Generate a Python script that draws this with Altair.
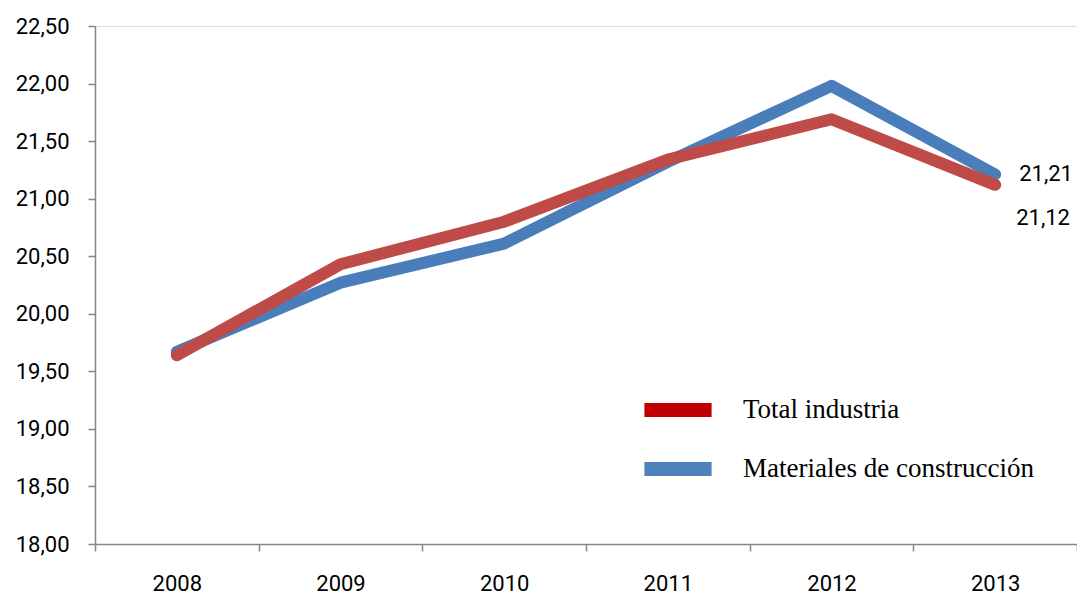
import altair as alt
import pandas as pd

years = ["2008", "2009", "2010", "2011", "2012", "2013"]
materiales = [19.67, 20.27, 20.61, 21.32, 21.98, 21.21]
total = [19.64, 20.43, 20.80, 21.34, 21.69, 21.12]
series = ["Materiales de construcción", "Total industria"]
line_colors = ["#4A7EBB", "#BE4B48"]
legend_colors = ["#4F81BD", "#C00000"]

rows = []
for i, y in enumerate(years):
    rows.append({"year": y, "serie": series[0], "value": materiales[i], "ord": 0})
    rows.append({"year": y, "serie": series[1], "value": total[i], "ord": 1})
df = pd.DataFrame(rows)

last = pd.DataFrame([
    {"year": years[-1], "serie": series[0], "value": materiales[-1],
     "label": f"{materiales[-1]:.2f}".replace(".", ",")},
    {"year": years[-1], "serie": series[1], "value": total[-1],
     "label": f"{total[-1]:.2f}".replace(".", ",")},
])

FONT = "Roboto"
AXIS_COLOR = "#868686"

x_enc = alt.X(
    "year:O",
    scale=alt.Scale(type="band", paddingInner=0, paddingOuter=0),
    axis=alt.Axis(
        title=None, tickBand="extent", labelAngle=0, labelFont=FONT,
        labelFontSize=22, labelColor="#000000", labelPadding=22,
        domainColor=AXIS_COLOR, domainWidth=1.5, tickColor=AXIS_COLOR,
        tickWidth=1.5, tickSize=7, grid=False,
    ),
)
y_enc = alt.Y(
    "value:Q",
    scale=alt.Scale(domain=[18, 22.5], nice=False, zero=False),
    axis=alt.Axis(
        title=None, values=[18 + 0.5 * k for k in range(10)],
        labelExpr="replace(format(datum.value, '.2f'), '.', ',')",
        labelFont=FONT, labelFontSize=22, labelColor="#000000",
        labelPadding=19, domainColor=AXIS_COLOR, domainWidth=1.5,
        tickColor=AXIS_COLOR, tickWidth=1.5, tickSize=7, grid=False,
    ),
)

lines = alt.Chart(df).mark_line(strokeWidth=12, strokeCap="round",
                                 strokeJoin="round").encode(
    x=x_enc,
    y=y_enc,
    color=alt.Color("serie:N",
                    scale=alt.Scale(domain=series, range=line_colors),
                    legend=None),
    order=alt.Order("ord:Q"),
    detail="serie:N",
)

legend_layer = alt.Chart(df).mark_point(opacity=0, filled=True).encode(
    x="year:O",
    y="value:Q",
    fill=alt.Fill(
        "serie:N",
        scale=alt.Scale(domain=[series[1], series[0]],
                        range=[legend_colors[1], legend_colors[0]]),
        legend=alt.Legend(
            title=None, orient="none", legendX=555, legendY=356,
            symbolType="M-1.2,-0.25H1.2V0.25H-1.2Z", symbolSize=3136,
            symbolStrokeWidth=0, symbolOpacity=1,
            labelFont="Liberation Serif", labelFontSize=27,
            labelColor="#000000", labelOffset=37, rowPadding=18,
            labelLimit=600,
        ),
    ),
)

lbl_blue = alt.Chart(last[last.serie == series[0]]).mark_text(
    align="left", baseline="middle", dx=24, dy=0, font=FONT, fontSize=22,
    color="#000000").encode(x="year:O", y="value:Q", text="label:N")
lbl_red = alt.Chart(last[last.serie == series[1]]).mark_text(
    align="left", baseline="middle", dx=21, dy=33, font=FONT, fontSize=22,
    color="#000000").encode(x="year:O", y="value:Q", text="label:N")

chart = alt.layer(lines, legend_layer, lbl_blue, lbl_red).properties(
    width=982, height=518,
    autosize=alt.AutoSizeParams(type="none"),
    padding={"left": 87, "top": 18, "right": 0, "bottom": 52},
).configure_view(stroke=None).configure(background="white")

chart.save("out.html", embed_options={"renderer": "svg", "actions": False})
